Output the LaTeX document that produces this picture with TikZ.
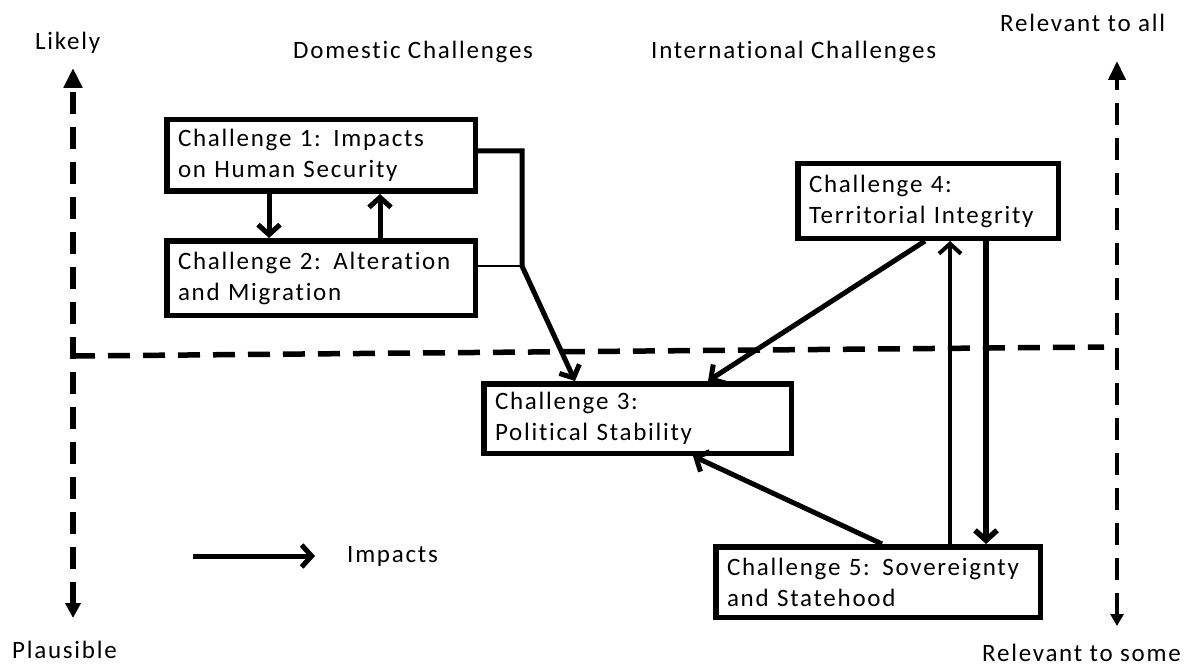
\documentclass[tikz,border=0pt]{standalone}
\usepackage{fontspec}
\setmainfont{Carlito}[LetterSpace=7,Ligatures={NoCommon,NoRare,NoDiscretionary}]
\usetikzlibrary{arrows.meta}
\begin{document}
\begin{tikzpicture}[x=1pt,y=-1pt,
  txt/.style={font=\fontsize{25}{31}\selectfont},
  lbl/.style={txt, inner sep=0pt},
  cbox/.style={txt, draw, rectangle, line width=5.5pt, align=left,
    inner xsep=11.25pt, inner ysep=0pt},
  axisline/.style={dash pattern=on 22pt off 13pt},
  heavy/.style={line width=5pt},
  barb/.style={-{Straight Barb[length=10pt,width=22pt]}},
]
\useasboundingbox (0,0) rectangle (1200,666);

% axis end points
\coordinate (ltop) at (73,68);
\coordinate (lbot) at (73,618);
\coordinate (rtop) at (1117,61);
\coordinate (rbot) at (1117,626);
\coordinate (hl) at (73,356);
\coordinate (hr) at (1104,347);

% axes
\draw[axisline, line width=6.5pt,
  {Triangle[length=15pt,width=15pt]}-{Triangle[length=20pt,width=18pt]}]
  (lbot) -- (ltop);
\draw[axisline, line width=4pt,
  {Triangle[length=12pt,width=13pt]}-{Triangle[length=19pt,width=17pt]}]
  (rbot) -- (rtop);
\draw[axisline, line width=5.5pt] (hl) -- (hr);

% axis and column labels
\node[lbl, anchor=base west] (likely) at (35,50) {Likely};
\node[lbl, anchor=base west] (plaus) at (12,658) {Plausible};
\node[lbl, anchor=base west] (dom) at (293,59) {Domestic Challenges};
\node[lbl, anchor=base west] (intl) at (651,59) {International Challenges};
\node[lbl, anchor=base west] (rall) at (1000,32) {Relevant to all};
\node[lbl, anchor=base west] (rsome) at (982,661) {Relevant to some};

% challenge boxes
\node[cbox, text width=286pt, minimum height=71.5pt] (c1) at (321,155.5)
  {Challenge 1: Impacts\\on Human Security};
\node[cbox, text width=286pt, minimum height=74.5pt] (c2) at (321,278)
  {Challenge 2: Alteration\\and Migration};
\node[cbox, text width=285pt, minimum height=69.5pt] (c3) at (637.5,418.5)
  {Challenge 3:\\Political Stability};
\node[cbox, text width=238pt, minimum height=74.5pt] (c4) at (928,201)
  {Challenge 4:\\Territorial Integrity};
\node[cbox, text width=302pt, minimum height=70.5pt] (c5) at (878,582)
  {Challenge 5: Sovereignty\\and Statehood};

% helper columns and joints
\coordinate (x12) at (269,0);
\coordinate (x21) at (380,0);
\coordinate (j1) at (522,151);
\coordinate (j2) at (522,266);
\coordinate (x3a) at (575,0);
\coordinate (x3b) at (708,0);
\coordinate (x3c) at (693,0);
\coordinate (x4a) at (925,0);
\coordinate (x5a) at (882,0);
\coordinate (x54) at (950,0);
\coordinate (x45) at (986,0);

% impacts between the challenges
\draw[heavy, barb] (c1.south -| x12) -- (c2.north -| x12);
\draw[heavy, barb] (c2.north -| x21) -- (c1.south -| x21);
\draw[heavy, barb] (c1.east |- j1) -- (j1) -- (j2) -- (c3.north -| x3a);
\draw[line width=2.5pt] (c2.east |- j2) -- (j2);
\draw[heavy, barb] (c4.south -| x4a) -- (c3.north -| x3b);
\draw[heavy, barb] (c5.north -| x5a) -- (c3.south -| x3c);
\draw[line width=4pt, barb] (c5.north -| x54) -- (c4.south -| x54);
\draw[line width=5.5pt, barb] (c4.south -| x45) -- (c5.north -| x45);

% legend
\coordinate (lga) at (193,556);
\coordinate (lgb) at (315,556);
\draw[heavy, barb] (lga) -- (lgb);
\node[lbl, anchor=west] (lgt) at (347,556) {Impacts};
\end{tikzpicture}
\end{document}
